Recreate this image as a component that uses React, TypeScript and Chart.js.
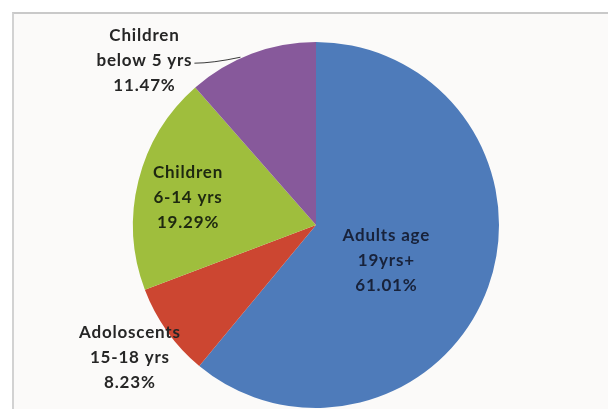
import React, { useEffect, useRef } from "react";
import { Chart, registerables } from "chart.js";

Chart.register(...registerables);

// Data
const categories = ["Adults age 19yrs+", "Adoloscents 15-18 yrs", "Children 6-14 yrs", "Children below 5 yrs"];
const labelLines = [
  ["Adults age", "19yrs+"],
  ["Adoloscents", "15-18 yrs"],
  ["Children", "6-14 yrs"],
  ["Children", "below 5 yrs"],
];
const values = [61.01, 8.23, 19.29, 11.47];
const sliceColors = ["#4e7bba", "#cc4631", "#9fbe3d", "#87599b"];
const textColors = ["#18223a", "#262626", "#1e2810", "#262626"];
// label placement: fraction of radius and angular shift (deg, clockwise) from slice mid-angle
const labelRadius = [0.43, 1.25, 0.715, 1.3];
const labelShift = [6.8, 0, -2, -25.5];
const hasLeader = [false, false, false, true];

const FONT = "bold 17px Lato";
const LINE_H = 25;

const sliceLabelPlugin = {
  id: "sliceLabels",
  afterDatasetsDraw(chart: any) {
    const ctx = chart.ctx;
    const meta = chart.getDatasetMeta(0);
    ctx.save();
    ctx.font = FONT;
    try {
      (ctx as any).letterSpacing = "0.8px";
    } catch (e) {}
    ctx.textAlign = "center";
    ctx.textBaseline = "middle";
    meta.data.forEach((arc: any, i: number) => {
      const p = arc.getProps(["x", "y", "startAngle", "endAngle", "outerRadius"], true);
      const midAngle = (p.startAngle + p.endAngle) / 2;
      const ang = midAngle + (labelShift[i] * Math.PI) / 180;
      const r = p.outerRadius * labelRadius[i];
      const cx = p.x + Math.cos(ang) * r;
      const cy = p.y + Math.sin(ang) * r;
      const lines = [...labelLines[i], values[i].toFixed(2) + "%"];
      ctx.fillStyle = textColors[i];
      lines.forEach((t, k) => {
        ctx.fillText(t, cx, cy + (k - 1) * LINE_H);
      });
      if (hasLeader[i]) {
        const w = ctx.measureText(lines[1]).width;
        const sx = cx + w / 2 + 2;
        const sy = cy + 3;
        const la = midAngle - (3.6 * Math.PI) / 180;
        const ex = p.x + Math.cos(la) * (p.outerRadius + 1);
        const ey = p.y + Math.sin(la) * (p.outerRadius + 1);
        ctx.strokeStyle = "#3a3a3a";
        ctx.lineWidth = 1;
        ctx.beginPath();
        ctx.moveTo(sx, sy);
        ctx.quadraticCurveTo(sx + 18, sy, ex, ey);
        ctx.stroke();
      }
    });
    ctx.restore();
  },
};

export default function App() {
  const canvasRef = useRef<HTMLCanvasElement | null>(null);

  useEffect(() => {
    if (!canvasRef.current) return;
    const chart = new Chart(canvasRef.current, {
      type: "pie",
      data: {
        labels: categories,
        datasets: [
          {
            data: values,
            backgroundColor: sliceColors,
            borderWidth: 0,
          },
        ],
      },
      options: {
        responsive: false,
        animation: false,
        devicePixelRatio: 1,
        layout: { padding: { top: 42, bottom: 1, left: 133, right: 109 } },
        plugins: {
          legend: { display: false },
          tooltip: { enabled: false },
          title: { display: false },
        },
      },
      plugins: [sliceLabelPlugin],
    });
    return () => chart.destroy();
  }, []);

  return (
    <div
      style={{
        position: "fixed",
        left: 0,
        top: 0,
        width: 608,
        height: 409,
        background: "#ffffff",
        overflow: "hidden",
      }}
    >
      <div
        style={{
          position: "absolute",
          left: 12,
          top: 12,
          width: 608,
          height: 409,
          background: "#fbfaf9",
          borderTop: "2px solid #c9c9c9",
          borderLeft: "2px solid #d2d2d2",
        }}
      />
      <canvas
        ref={canvasRef}
        width={608}
        height={409}
        style={{ position: "absolute", left: 0, top: 0, width: 608, height: 409 }}
      />
    </div>
  );
}
